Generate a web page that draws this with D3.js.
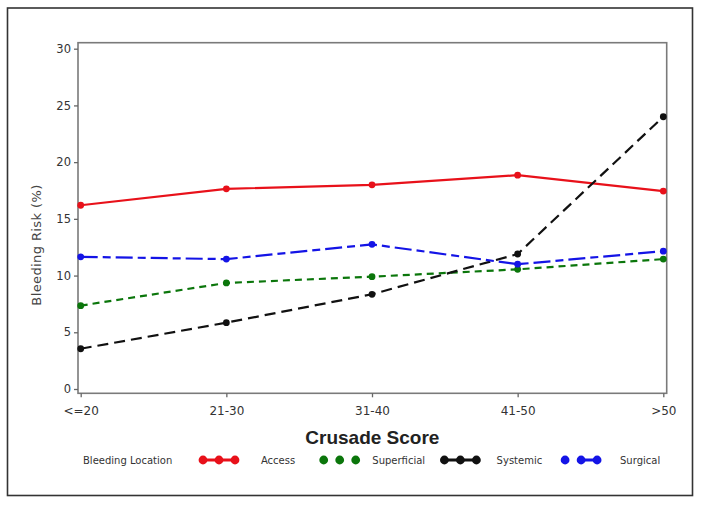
<!DOCTYPE html>
<html>
<head>
<meta charset="utf-8">
<script src="https://cdn.jsdelivr.net/npm/d3@7"></script>
<style>
  html, body { margin: 0; padding: 0; background: #fff; }
  svg { display: block; }
  .tick text { font-family: "DejaVu Sans", sans-serif; fill: #333; }
  .tick line { stroke: #666; stroke-width: 1.3; }
</style>
</head>
<body>
<div id="chart"></div>
<script>
	const categories = ["<=20", "21-30", "31-40", "41-50", ">50"];
	const access = [16.2, 17.65, 18.0, 18.85, 17.45];
	const superficial = [7.35, 9.35, 9.9, 10.55, 11.45];
	const systemic = [3.55, 5.85, 8.35, 11.9, 24.0];
	const surgical = [11.65, 11.45, 12.75, 11.0, 12.15];
	const yTicks = [0, 5, 10, 15, 20, 25, 30];
	const seriesNames = ["Access", "Superficial", "Systemic", "Surgical"];

	const W = 701, H = 505;
	const box = {left: 78, top: 42.7, right: 666.7, bottom: 393.3};

	const series = [
		{name: "Access", values: access, color: "#e8111a", dash: null, lgDash: null},
		{name: "Superficial", values: superficial, color: "#0b760b", dash: "7,5", lgDash: "0,100"},
		{name: "Systemic", values: systemic, color: "#111", dash: "11,6", lgDash: null},
		{name: "Surgical", values: surgical, color: "#1414e6", dash: "17,5,8,5", lgDash: "0,16,40"}
	];

	const svg = d3.select("#chart").append("svg").attr("width", W).attr("height", H);

	/*============= frames ===============*/
	svg.append("rect")
		.attr("x", 7.5).attr("y", 8).attr("width", 685).attr("height", 487.5)
		.attr("fill", "none").attr("stroke", "#333").attr("stroke-width", 1.6);

	svg.append("rect")
		.attr("x", box.left).attr("y", box.top)
		.attr("width", box.right - box.left).attr("height", box.bottom - box.top)
		.attr("fill", "none").attr("stroke", "#7a7a7a").attr("stroke-width", 1.6);

	/*============= scales & axes ===============*/
	const x = d3.scalePoint().domain(categories).range([80.7, 663.3]);
	const y = d3.scaleLinear().domain([0, 30]).range([389, 48.7]);

	const gY = svg.append("g")
		.attr("transform", `translate(${box.left},0)`)
		.call(d3.axisLeft(y).tickValues(yTicks).tickSize(4).tickPadding(3));
	gY.select(".domain").remove();
	gY.selectAll("text").attr("font-size", 11.5);

	const gX = svg.append("g")
		.attr("transform", `translate(0,${box.bottom})`)
		.call(d3.axisBottom(x).tickSize(4).tickPadding(9));
	gX.select(".domain").remove();
	gX.selectAll("text").attr("font-size", 12);

	svg.append("text")
		.attr("transform", `translate(41,245) rotate(-90)`)
		.attr("text-anchor", "middle")
		.attr("font-family", "DejaVu Sans, sans-serif")
		.attr("font-size", 13).attr("fill", "#444")
		.attr("letter-spacing", 0.4)
		.text("Bleeding Risk (%)");

	svg.append("text")
		.attr("x", (box.left + box.right) / 2).attr("y", 444)
		.attr("text-anchor", "middle")
		.attr("font-family", "Liberation Sans, Arial, sans-serif")
		.attr("font-weight", "bold")
		.attr("font-size", 19).attr("fill", "#222")
		.text("Crusade Score");

	/*============= lines ===============*/
	const line = d3.line()
		.x((d, i) => x(categories[i]))
		.y(d => y(d));

	series.forEach(s => {
		const g = svg.append("g");
		g.append("path")
			.attr("d", line(s.values))
			.attr("fill", "none")
			.attr("stroke", s.color)
			.attr("stroke-width", 2.2)
			.attr("stroke-dasharray", s.dash);
		g.selectAll("circle")
			.data(s.values)
			.enter()
			.append("circle")
			.attr("cx", (d, i) => x(categories[i]))
			.attr("cy", d => y(d))
			.attr("r", 3.4)
			.attr("fill", s.color);
	});

	/*============= legend ===============*/
	const lgY = 460;
	svg.append("text")
		.attr("x", 83).attr("y", lgY).attr("dy", "0.35em")
		.attr("font-family", "DejaVu Sans, sans-serif")
		.attr("font-size", 10).attr("fill", "#333")
		.text("Bleeding Location");

	series.forEach((s, i) => {
		const x0 = 203 + i * 120.7;
		const g = svg.append("g");
		g.append("line")
			.attr("x1", x0).attr("x2", x0 + 32)
			.attr("y1", lgY).attr("y2", lgY)
			.attr("stroke", s.color).attr("stroke-width", 3)
			.attr("stroke-dasharray", s.lgDash);
		g.selectAll("circle")
			.data([0, 16, 32])
			.enter()
			.append("circle")
			.attr("cx", d => x0 + d).attr("cy", lgY)
			.attr("r", 4.4).attr("fill", s.color);
		g.append("text")
			.attr("x", x0 + 75).attr("y", lgY).attr("dy", "0.35em")
			.attr("text-anchor", "middle")
			.attr("font-family", "DejaVu Sans, sans-serif")
			.attr("font-size", 10).attr("fill", "#333")
			.text(seriesNames[i]);
	});
</script>
</body>
</html>
